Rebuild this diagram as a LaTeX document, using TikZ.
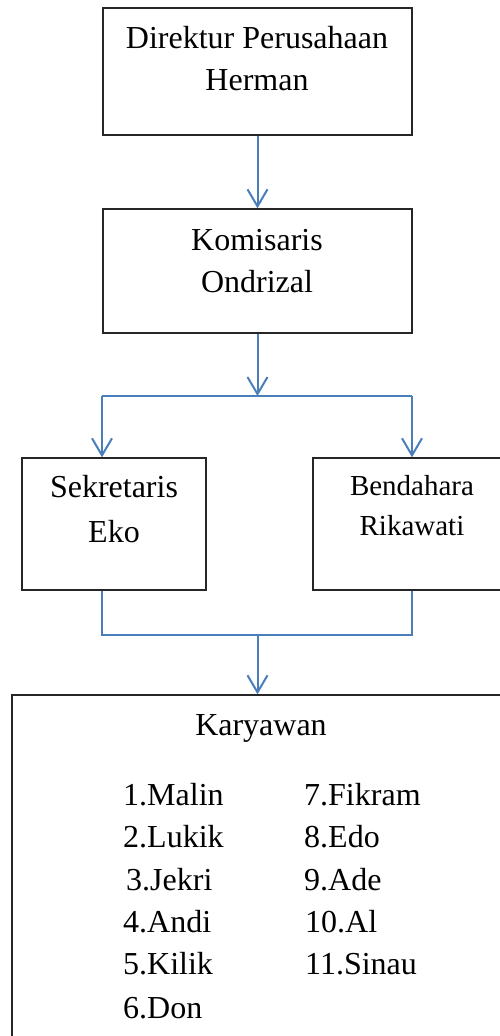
\documentclass[tikz,border=0pt]{standalone}
\usepackage{fontspec}
\setmainfont{Liberation Serif}
\usetikzlibrary{arrows.meta}
\definecolor{conn}{RGB}{74,126,187}
\definecolor{boxline}{RGB}{38,38,38}
\begin{document}
\begin{tikzpicture}[x=1pt,y=-1pt,
  orgbox/.style={draw=boxline,line width=1.4pt,rectangle,inner sep=0pt},
  txt/.style={anchor=base,inner sep=0pt,font=\fontsize{32}{42}\selectfont},
  txtsm/.style={anchor=base,inner sep=0pt,font=\fontsize{29}{38}\selectfont},
  lst/.style={anchor=base west,inner sep=0pt,font=\fontsize{32}{42}\selectfont},
  link/.style={draw=conn,line width=2pt},
  arr/.style={link,-{Straight Barb[length=17pt,width=20pt,line width=2pt]}}]
\useasboundingbox (0,0) rectangle (499,1036);
% boxes
\node[orgbox,minimum width=309pt,minimum height=127pt] (b1) at (257.5,71.5) {};
\node[orgbox,minimum width=309pt,minimum height=124pt] (b2) at (257.5,271) {};
\node[orgbox,minimum width=184pt,minimum height=132pt] (b3) at (114,524) {};
\node[orgbox,minimum width=198pt,minimum height=132pt] (b4) at (412,524) {};
\node[orgbox,minimum width=498pt,minimum height=355pt] (b5) at (261,872.5) {};
% texts
\node[txt] (t1a) at (257,48) {Direktur Perusahaan};
\node[txt] (t1b) at (257,90) {Herman};
\node[txt] (t2a) at (257,250) {Komisaris};
\node[txt] (t2b) at (257,292) {Ondrizal};
\node[txt] (t3a) at (114,497) {Sekretaris};
\node[txt] (t3b) at (114,542) {Eko};
\node[txtsm] (t4a) at (412,495) {Bendahara};
\node[txtsm] (t4b) at (412,535) {Rikawati};
\node[txt] (t5) at (261,735) {Karyawan};
\node[lst] (k1) at (123,805) {1.Malin};
\node[lst] (k2) at (123,847) {2.Lukik};
\node[lst] (k3) at (126,890) {3.Jekri};
\node[lst] (k4) at (123,932) {4.Andi};
\node[lst] (k5) at (123,974) {5.Kilik};
\node[lst] (k6) at (123,1018) {6.Don};
\node[lst] (k7) at (304,805) {7.Fikram};
\node[lst] (k8) at (304,847) {8.Edo};
\node[lst] (k9) at (304,890) {9.Ade};
\node[lst] (k10) at (305,932) {10.Al};
\node[lst] (k11) at (305,974) {11.Sinau};
% junctions
\coordinate (j1) at (257.5,396);
\coordinate (jl) at (102,396);
\coordinate (jr) at (412,396);
\coordinate (ml) at (102,635);
\coordinate (mr) at (412,635);
\coordinate (j2) at (257.5,635);
% connectors
\draw[arr] (b1.south) -- (b2.north);
\draw[arr] (b2.south) -- (j1);
\draw[link] (jl) -- (jr);
\draw[arr] (jl) -- (jl |- b3.north);
\draw[arr] (jr) -- (jr |- b4.north);
\draw[link] (ml |- b3.south) -- (ml) -- (mr) -- (mr |- b4.south);
\draw[arr] (j2) -- (j2 |- b5.north);
\end{tikzpicture}
\end{document}
